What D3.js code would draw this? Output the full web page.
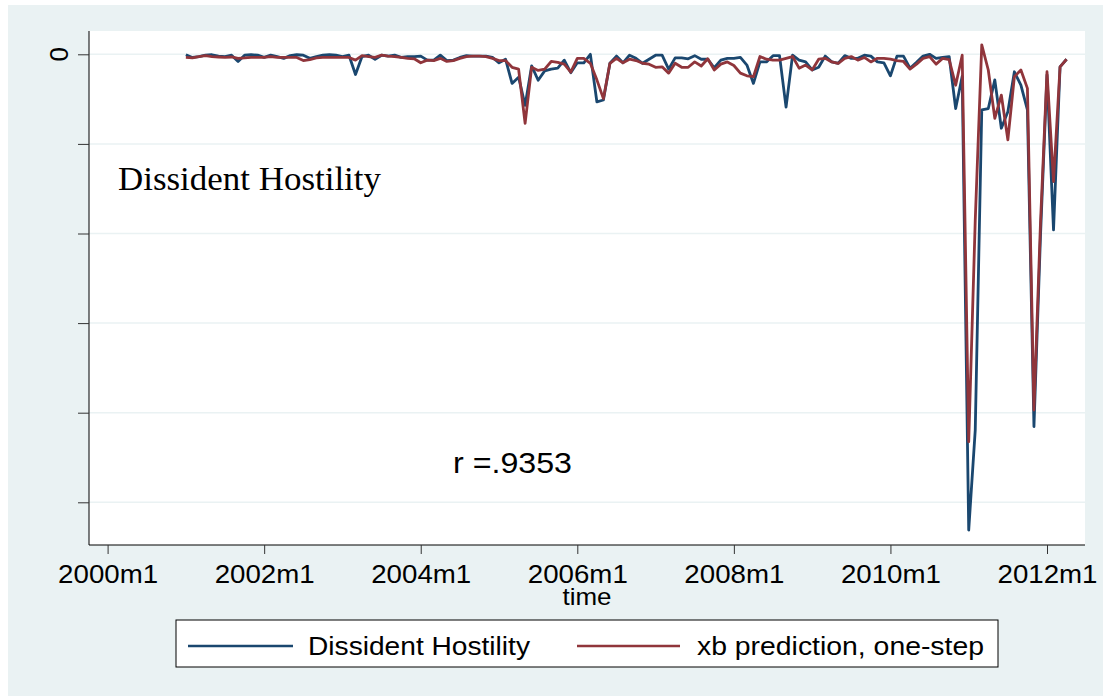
<!DOCTYPE html>
<html>
<head>
<meta charset="utf-8">
<script src="https://d3js.org/d3.v7.min.js"></script>
<style>
  body { margin: 0; background: #fff; }
  text { font-family: "Liberation Sans", Arial, sans-serif; fill: #000; }
</style>
</head>
<body>
<div id="chart"></div>
<script>
// monthly series, first point is 2001m1 (month 12 counted from 2000m1)
var firstMonth = 12;

var hostility = [
  -0.1, -0.7, -0.5, -0.2, -0.1, -0.4, -0.5, -0.2, -1.6, -0.2, -0.1, -0.2,
  -0.7, -0.2, -0.5, -0.9, -0.3, -0.1, -0.2, -0.9, -0.5, -0.2, -0.1, -0.2,
  -0.5, -0.2, -4.5, -0.5, -0.2, -1.1, -0.2, -0.4, -0.2, -0.7, -0.5, -0.5,
  -0.4, -1.3, -1.3, -0.2, -1.4, -1.3, -0.7, -0.3, -0.4, -0.4, -0.4, -0.7,
  -1.9, -1.1, -6.5, -5.1, -11.4, -2.6, -5.8, -3.7, -3.3, -3.1, -1.3, -4.1,
  -1.9, -1.9, 0, -10.6, -10.2, -2.0, -0.4, -1.9, -0.2, -0.9, -2.0, -1.1,
  -0.2, -0.2, -3.3, -0.8, -0.8, -1.0, -0.3, -1.1, -1.1, -3.0, -1.3, -0.9,
  -0.9, -0.7, -2.4, -6.5, -1.7, -1.7, -0.3, -0.3, -11.8, -0.2, -1.3, -1.7,
  -3.5, -2.9, -0.4, -1.7, -2.0, -0.3, -0.9, -0.9, -0.2, -0.4, -1.7, -1.9,
  -4.8, -0.4, -0.4, -3.1, -1.8, -0.4, 0, -0.9, -0.7, -0.5, -12.1, -4.9,
  -106.2, -83.9, -12.4, -12.1, -5.7, -16.5, -12.8, -3.9, -6.9, -12.4, -83.1, -40.6,
  -4.6, -39.2, -2.8, -1.1
];

var prediction = [
  -0.7, -0.8, -0.5, -0.3, -0.5, -0.6, -0.7, -0.6, -0.9, -0.8, -0.7, -0.7,
  -0.7, -0.5, -0.7, -0.7, -0.7, -0.7, -1.4, -1.2, -0.8, -0.7, -0.7, -0.7,
  -0.7, -0.7, -1.3, -0.3, -0.5, -0.7, -0.2, -0.4, -0.5, -0.7, -0.9, -1.0,
  -1.9, -1.3, -1.4, -0.9, -1.6, -1.4, -0.9, -0.5, -0.4, -0.4, -0.5, -0.9,
  -1.4, -1.4, -2.9, -3.3, -15.4, -2.9, -3.6, -3.3, -1.6, -1.8, -2.2, -4.0,
  -0.9, -0.9, -2.0, -5.7, -9.9, -2.0, -0.9, -1.9, -1.1, -1.4, -2.0, -2.2,
  -2.9, -2.8, -4.2, -2.0, -2.9, -2.9, -1.7, -2.6, -1.0, -3.5, -2.2, -1.7,
  -2.5, -4.2, -4.8, -5.0, -0.5, -1.1, -1.3, -1.3, -0.9, -0.5, -3.1, -2.4,
  -3.5, -1.1, -0.9, -1.7, -2.0, -0.9, -0.5, -1.3, -0.7, -1.7, -0.9, -0.9,
  -1.1, -1.4, -1.6, -3.3, -2.2, -0.9, -0.5, -2.2, -0.9, -1.2, -6.9, -0.2,
  -86.5, -37.1, 2.1, -3.5, -14.3, -9.1, -19.1, -5.0, -3.5, -7.6, -79.4, -37.7,
  -3.9, -28.4, -2.8, -1.1
];

var xTickMonths = [0, 24, 48, 72, 96, 120, 144];
var xTickLabels = ["2000m1", "2002m1", "2004m1", "2006m1", "2008m1", "2010m1", "2012m1"];
var yTicks = [0, -20, -40, -60, -80, -100];
var seriesNames = ["Dissident Hostility", "xb prediction, one-step"];
var seriesColors = ["#1a476f", "#90353b"];

var W = 1103, H = 696;
var plot = { left: 89, right: 1085, top: 31, bottom: 545 };

var svg = d3.select("#chart").append("svg")
  .attr("width", W).attr("height", H);

// graph region (Stata s2color background)
svg.append("rect")
  .attr("x", 8).attr("y", 5).attr("width", W - 8).attr("height", H - 5)
  .attr("fill", "#eaf2f3");

svg.append("rect")
  .attr("x", plot.left).attr("y", plot.top)
  .attr("width", plot.right - plot.left).attr("height", plot.bottom - plot.top)
  .attr("fill", "#fff");

var x = d3.scaleLinear().domain([0, 144]).range([107.6, 1047]);
var y = d3.scaleLinear().domain([0, -100]).range([54.3, 502.3]);

// grid lines
svg.append("g").selectAll("line")
  .data(yTicks).join("line")
  .attr("x1", plot.left).attr("x2", plot.right)
  .attr("y1", d => y(d)).attr("y2", d => y(d))
  .attr("stroke", "#eaf2f3").attr("stroke-width", 1.5);

// lines
var rows = hostility.map((v, i) => ({ m: firstMonth + i, a: v, b: prediction[i] }));
[["a", 0], ["b", 1]].forEach(function (s) {
  svg.append("path")
    .datum(rows)
    .attr("fill", "none")
    .attr("stroke", seriesColors[s[1]])
    .attr("stroke-width", 2.8)
    .attr("stroke-linejoin", "round")
    .attr("d", d3.line().x(d => x(d.m)).y(d => y(d[s[0]])));
});

// y axis
var yAxis = svg.append("g")
  .attr("transform", "translate(" + plot.left + ",0)")
  .call(d3.axisLeft(y).tickValues(yTicks).tickSize(11).tickFormat(""));
yAxis.select(".domain").attr("d", "M0," + plot.top + "V" + plot.bottom);
yAxis.selectAll("line").attr("stroke", "#333");

svg.append("text")
  .attr("transform", "translate(68," + y(0) + ") rotate(-90)")
  .attr("text-anchor", "middle")
  .style("font-size", "26px")
  .text("0");

// x axis
var xAxis = svg.append("g")
  .attr("transform", "translate(0," + plot.bottom + ")")
  .call(d3.axisBottom(x).tickValues(xTickMonths).tickSize(9).tickFormat((d, i) => xTickLabels[i]));
xAxis.select(".domain").attr("d", "M" + plot.left + ",0H" + plot.right);
xAxis.selectAll("line").attr("stroke", "#333");
xAxis.selectAll("text")
  .attr("y", 38).attr("dy", null)
  .attr("textLength", 100).attr("lengthAdjust", "spacingAndGlyphs")
  .style("font-size", "26px")
  .style("font-family", "Liberation Sans, Arial, sans-serif");

svg.append("text")
  .attr("x", (plot.left + plot.right) / 2 - 24.5).attr("y", 605)
  .attr("textLength", 49).attr("lengthAdjust", "spacingAndGlyphs")
  .style("font-size", "24px")
  .text("time");

// text inside the plot
svg.append("text")
  .attr("x", 118).attr("y", 190)
  .attr("textLength", 263).attr("lengthAdjust", "spacingAndGlyphs")
  .style("font-family", "Liberation Serif, Times New Roman, serif")
  .style("font-size", "33px")
  .text("Dissident Hostility");

svg.append("text")
  .attr("x", 453).attr("y", 473)
  .attr("textLength", 119).attr("lengthAdjust", "spacingAndGlyphs")
  .style("font-size", "30px")
  .text("r =.9353");

// legend
var legend = svg.append("g");
legend.append("rect")
  .attr("x", 176).attr("y", 620).attr("width", 822).attr("height", 47)
  .attr("fill", "#fff").attr("stroke", "#000").attr("stroke-width", 1);

var legendX = [[188, 293, 308, 222], [577, 680, 697, 287]];
seriesNames.forEach(function (name, i) {
  legend.append("line")
    .attr("x1", legendX[i][0]).attr("x2", legendX[i][1])
    .attr("y1", 646).attr("y2", 646)
    .attr("stroke", seriesColors[i]).attr("stroke-width", 2.6);
  legend.append("text")
    .attr("x", legendX[i][2]).attr("y", 655)
    .attr("textLength", legendX[i][3]).attr("lengthAdjust", "spacingAndGlyphs")
    .style("font-size", "25px")
    .text(name);
});
</script>
</body>
</html>
